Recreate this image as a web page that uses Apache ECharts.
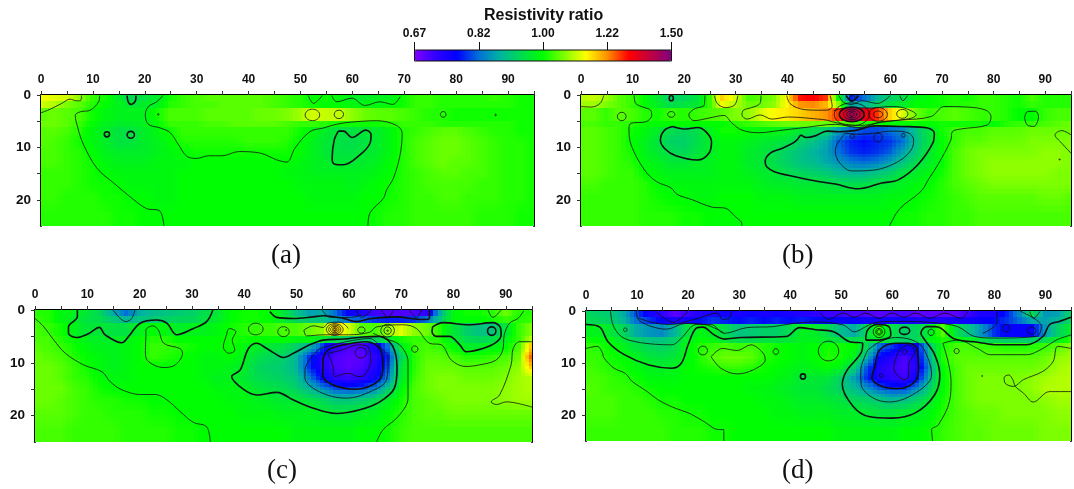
<!DOCTYPE html>
<html><head><meta charset="utf-8">
<style>html,body{margin:0;padding:0;background:#fff}#c{width:1074px;height:489px}</style>
<script src="https://cdn.jsdelivr.net/npm/echarts@6/dist/echarts.min.js"></script>
</head><body><div id="c"></div>
<script>
const colCenters=[0,2.5,5,7.5,10,12.5,15,17.5,20,22.5,25,27.5,30,32.5,35,37.5,40,42.5,45,47.5,50,52.5,55,57.5,60,62.5,65,67.5,70,72.5,75,77.5,80,82.5,85,87.5,90,92.5,95];
const rowEdges=[0,1.25,2.5,5,6.25,8,10,12,14,16,18,21,25];
const colorbarTicks=['0.67','0.82','1.00','1.22','1.50'];
const captions=['(a)','(b)','(c)','(d)'];
const ramp=['#8000ff','#3000ff','#0000ff','#0070d8','#00b4a0','#00dc50','#00ff00','#80ff00','#ffff00','#ff9000','#ff0000','#c00040','#800080'];
// ratio x 100
const ratioA=[
[114,113,112,108,103,101,97,93,95,97,101,103,104,105,105,105,105,105,104,103,102,100,101,99,98,97,98,98,101,103,103,102,102,102,102,103,102,101,101],
[112,110,107,105,102,100,98,96,97,98,102,103,104,104,105,105,105,105,104,103,102,101,100,100,99,99,99,100,101,103,103,102,102,102,102,102,102,101,101],
[105,106,105,104,101,99,98,98,98,101,104,104,104,105,105,105,105,106,106,107,109,112,111,111,108,106,105,105,104,103,102,102,101,101,101,101,101,101,101],
[106,106,105,103,100,98,97,97,98,100,103,103,103,104,104,105,105,105,105,104,103,103,102,101,101,101,101,102,103,103,103,102,102,102,102,102,102,101,101],
[105,105,104,102,99,97,95,95,97,99,101,103,103,103,103,103,103,103,103,103,101,99,97,95,95,96,97,99,102,103,104,105,105,104,103,102,102,101,101],
[105,104,103,101,99,97,95,95,97,98,100,102,102,102,102,102,103,103,103,102,100,98,96,95,94,95,97,99,102,104,105,106,106,105,104,103,102,102,101],
[104,104,103,102,100,98,97,97,97,98,99,100,101,101,101,101,101,101,101,101,100,98,96,95,95,96,97,99,102,104,105,106,106,105,104,103,102,102,101],
[104,104,103,102,101,99,98,98,98,99,99,99,100,100,100,100,100,100,100,100,99,98,97,96,96,97,98,100,102,104,105,106,105,105,104,103,102,102,101],
[103,103,103,102,101,100,99,99,99,99,99,100,100,100,100,100,100,100,100,99,99,98,98,98,98,98,99,100,102,103,104,105,105,104,104,103,102,102,101],
[103,103,103,102,101,101,100,99,99,99,99,100,100,100,100,100,100,100,100,100,99,99,99,99,98,99,100,101,102,103,104,104,104,104,103,103,102,102,101],
[103,103,102,102,102,101,101,100,100,99,99,100,100,100,100,100,100,100,100,100,100,99,99,99,99,100,100,101,102,103,103,104,104,103,103,103,102,102,101],
[102,102,102,102,102,102,101,101,100,100,100,100,100,100,100,100,100,100,100,100,100,100,100,100,100,100,101,102,102,103,103,103,103,103,102,102,102,101,101]];
const ratioB=[
[110,111,109,105,103,100,96,92,93,95,103,118,112,104,105,107,115,130,132,128,100,78,82,88,92,94,99,100,101,102,101,103,103,102,101,104,102,102,102],
[109,109,107,105,103,100,97,94,95,96,103,114,110,106,106,108,115,122,123,120,108,86,88,92,95,97,100,100,101,102,102,103,103,102,101,103,102,102,102],
[105,105,103,105,104,102,101,103,102,103,104,105,107,108,112,115,116,118,120,122,128,145,135,128,118,112,106,103,104,105,104,103,103,102,100,100,103,104,104],
[104,104,103,103,102,100,100,100,100,100,100,100,102,103,104,105,106,106,106,106,105,104,102,101,100,100,100,100,101,101,101,101,100,102,103,103,104,105,106],
[105,105,104,103,101,99,97,94,93,94,98,101,101,100,99,99,98,96,94,92,86,82,80,80,82,84,90,95,101,103,104,104,105,105,105,106,106,106,106],
[105,105,104,103,100,98,95,92,92,94,97,99,99,98,97,96,95,92,90,87,81,78,77,78,79,82,89,95,100,103,105,105,106,106,106,107,107,107,107],
[105,105,104,103,101,98,96,94,93,95,97,99,99,97,96,94,92,90,88,86,82,79,78,79,81,86,91,96,100,104,106,107,107,107,107,107,108,108,107],
[105,105,104,103,102,99,98,96,96,97,98,99,99,97,96,94,92,90,89,87,85,83,82,83,86,90,94,97,100,104,106,107,108,108,108,108,108,108,107],
[105,105,104,103,103,100,99,98,98,98,98,99,99,98,97,96,94,93,92,91,89,88,88,90,92,95,97,99,101,104,106,107,108,108,108,108,108,107,107],
[104,104,103,103,103,102,100,99,99,99,99,99,99,99,98,97,97,96,96,95,94,94,94,95,96,98,99,100,102,104,105,106,107,107,107,107,107,107,107],
[103,103,103,103,103,102,101,100,100,99,99,100,100,100,99,99,99,98,98,98,98,98,98,98,99,99,100,101,102,103,104,105,105,105,105,105,106,106,105],
[103,103,103,103,103,102,102,102,101,101,100,100,100,100,100,100,100,100,100,100,100,100,100,100,100,101,101,102,102,103,103,104,104,104,104,104,104,104,104]];
const ratioC=[
[102,102,99,98,96,93,87,82,87,89,90,91,92,94,96,100,101,101,100,96,90,86,87,82,76,74,71,70,70,70,72,87,99,101,101,102,106,102,102],
[103,102,99,97,95,94,91,88,90,91,92,93,93,95,97,100,101,101,100,97,93,91,90,86,82,81,79,78,78,79,82,90,99,100,100,101,103,102,103],
[104,103,101,98,96,96,95,95,98,100,99,97,98,98,99,101,102,103,103,104,104,106,108,118,112,105,104,108,113,108,106,102,96,92,90,90,96,103,107],
[104,104,102,100,98,97,97,98,100,102,102,100,100,100,100,101,101,100,100,100,99,99,97,94,92,91,92,96,101,103,103,102,97,94,93,94,98,103,110],
[105,104,103,101,99,98,98,99,100,103,103,102,101,100,100,101,99,97,96,95,92,88,80,72,70,70,74,82,97,103,104,103,100,97,97,98,100,104,118],
[106,105,104,102,100,99,98,99,100,103,102,101,100,99,99,100,98,95,93,92,88,79,73,70,69,69,72,78,92,102,105,105,104,102,102,103,104,106,125],
[106,106,105,103,101,99,98,99,100,100,100,100,100,99,99,98,97,93,92,91,88,79,73,70,69,70,73,80,95,102,106,106,106,105,105,105,106,108,118],
[106,106,105,103,102,100,99,99,100,100,100,100,100,99,98,98,96,94,93,92,90,83,76,72,71,72,75,83,96,103,106,107,107,106,106,106,107,109,110],
[106,106,106,104,103,101,100,100,100,100,100,100,100,100,99,99,98,96,95,94,92,88,84,80,79,80,83,90,99,104,106,107,107,107,107,107,108,109,110],
[106,106,105,104,103,102,102,101,101,100,100,100,100,100,100,99,99,98,97,96,96,95,93,90,90,91,93,97,101,104,105,106,107,107,107,107,108,109,109],
[105,105,105,104,103,103,102,102,102,101,101,100,100,100,100,100,99,99,99,98,98,98,97,96,96,97,98,100,102,104,105,105,106,106,106,106,106,106,106],
[104,104,104,103,103,103,103,102,102,102,102,101,101,100,100,100,100,100,100,100,99,99,99,99,99,100,100,101,103,104,104,104,104,104,104,104,104,104,104]];
const ratioD=[
[93,92,91,87,80,75,72,69,71,73,74,75,74,75,74,75,74,73,72,71,71,70,70,69,70,70,69,69,69,69,71,74,74,78,84,94,85,86,92],
[94,93,92,88,82,79,76,74,75,77,79,78,77,78,77,78,77,78,77,77,76,76,75,75,75,75,74,74,74,75,75,76,77,79,82,87,86,88,93],
[98,98,96,93,87,85,84,88,95,99,97,94,90,91,92,92,94,98,97,94,89,87,93,103,95,92,93,97,105,95,90,85,79,76,76,76,85,92,97],
[101,100,99,96,92,90,90,92,98,100,99,96,94,94,95,95,96,98,98,96,95,94,95,97,94,92,93,98,102,100,98,95,93,92,92,92,94,98,102],
[103,102,100,98,95,93,92,94,99,102,103,104,103,104,102,101,100,99,100,101,101,100,94,82,79,75,76,90,101,104,104,103,103,102,102,102,103,105,107],
[103,103,101,100,98,96,95,96,99,102,105,106,106,105,102,101,100,99,100,102,101,98,88,76,73,70,74,88,102,105,105,105,105,105,105,105,106,108,109],
[104,103,102,101,99,98,97,98,100,101,102,103,103,102,101,100,99,98,99,100,98,92,81,73,71,70,73,85,100,104,106,106,106,106,106,106,107,109,110],
[104,104,103,102,101,99,99,99,100,100,100,100,100,100,100,99,98,96,96,96,92,86,79,74,72,71,76,88,100,104,106,107,107,107,107,108,109,110,110],
[105,104,103,103,102,101,100,100,100,100,100,100,100,99,99,98,97,96,96,94,92,89,85,81,79,79,84,92,100,104,106,107,107,107,107,108,110,110,110],
[104,104,104,103,103,102,101,101,100,100,100,100,100,100,99,99,98,97,97,96,95,93,92,90,88,89,92,96,101,104,106,107,107,107,107,107,108,109,109],
[104,104,104,103,103,103,102,102,101,101,100,100,100,100,100,99,99,98,98,98,97,97,96,95,95,96,97,99,102,104,105,106,106,107,107,107,107,108,108],
[103,103,103,103,103,103,103,102,102,102,101,101,100,100,100,100,100,100,100,100,99,99,99,99,99,100,100,101,103,104,105,105,106,106,106,106,107,107,107]];

const thinA=[
[[0,3.4],[1.8,2.7],[4,1.6],[5.6,.8],[6.8,1.1],[7.6,1.1],[7.8,.1]],
[[11.3,.1],[11.1,1.3],[9.5,2.9],[7.6,3.2],[6.6,3.9],[7.1,6.3],[8.2,9.5],[10.8,14],[14,16.8],[17.9,20],[20.4,21.7],[22.7,22],[23.3,22.9],[23.7,25]],
[[23.5,.1],[22.3,1.3],[20.7,2.2],[20.1,3.8],[20.7,5.6],[23,6.3],[24.9,7.2],[26.5,9.5],[28.1,11.7],[30,12.1],[32.3,11.6],[34.9,11.6],[38.1,10.8],[42.3,11.1],[45.5,12.4],[47.4,12.8],[48.9,10.2],[51.8,7],[54.4,6.3],[56.9,5.6],[59.5,5.2],[64.7,4.9],[68.5,5.8],[69.6,7.3],[69.2,11.4],[67.9,15.9],[66.6,18.1],[66,19.7],[63.4,22.5],[63,25]],
[[51.5,.1],[52.5,1.6],[54.2,.1]],
[[56,.1],[57,1.3],[59.9,.6],[62.4,2],[65.3,1.3],[67.8,1.8],[69.2,.3]]];
const thickA=[
[[57.3,6.9],[58.3,6.9],[59.9,8.1],[62.6,6.7],[63.6,7.6],[63.4,9.2],[61.5,11.4],[58.3,13.3],[56.6,13.2],[56.1,12.1],[56.5,8.6],[57.3,6.9]],
[[16.6,.1],[16.8,1.3],[17.4,1.8],[18.2,1.1],[18.3,.1]]];
const ringsThinA=[[52.3,3.8,1.4,1.1],[57.4,3.7,.9,.8],[77.5,3.7,.55,.55],[87.6,3.8,.15,.15],[22.6,3.7,.15,.15]];
const ringsThickA=[[12.7,7.5,.5,.5],[17.3,7.6,.7,.65]];

const thinB=[
[[0,2.2],[2,2.3],[3.7,1.6],[4.4,.1]],
[[10.3,.1],[10.6,1.6],[12,2.3],[13.5,2.9],[13.7,3.9],[12.6,5.1],[9.7,5.4],[9.3,6.3],[9.7,9.5],[12.3,14.3],[14.6,16.5],[17.4,17.7],[18.7,19],[21.6,20],[25.4,21.4],[28,21.6],[29.9,23.2],[31.1,24.3],[31.2,25]],
[[24,.1],[23.9,1.9],[21.9,2.7],[20.9,3.8],[21.9,4.9],[24.8,4.4],[27.7,3.9],[29.3,5.4],[31.2,6.7],[34.4,7.2],[38.3,6.8],[43.4,6.2],[49.3,5.6],[53.8,6.2],[58.3,5.1],[62,4.8],[67.9,4.1],[70.4,2.2],[74.9,2.3],[78.5,2.9],[79.5,4.1],[78.8,5.7],[73.6,6.5],[72,7],[71.7,8.6],[69.2,13.3],[67.5,15.9],[65.9,18.4],[61.8,21.7],[59.8,25]],
[[25.9,.1],[26.4,1.6],[28,2.4],[29.8,1.9],[30.4,.1]],
[[34.9,.1],[34.7,1.6],[33.1,2.4],[31.5,2.9],[31.2,3.8],[32.2,4.6],[34.7,3.8],[37,4.6],[40.2,4.2],[46,4.6],[47.7,4.8],[49.9,5.4],[54.4,5.8],[58.3,5.2],[61.5,4.8],[64.1,4.4],[65,3.8],[62.3,2.4],[60,2.2],[56,2.5],[52,2.4],[49,3]],
[[39.9,.1],[40.5,1.6],[42.8,2.7],[46,2.9],[47.7,2.9],[48.7,2.2],[48.3,.1]],
[[50,.1],[50.9,1.4],[52.5,1.8],[54.4,1.1],[57.5,1.6],[60,.1]],
[[51.2,7.3],[49.6,9.5],[49.3,10.8],[50.2,13],[52.5,14.5],[57,14.3],[61.5,12.7],[64,10.5],[64.5,8.6],[63.4,7.2],[60.2,6.9],[56.7,7.3],[53.8,7.5],[51.2,7.3]],
[[61.8,.1],[62.4,1.1],[63.3,.1]],
[[86,4.4],[86.5,3.2],[88.1,3.1],[88.7,4.1],[87.8,6],[86.5,5.7],[86,4.4]],
[[95,7.6],[93.2,6.8],[91.9,7.6],[93.2,9.2],[95,11.1]]];
const thickB=[
[[42.6,7.6],[43.7,8.1],[45.4,7.8],[47.7,6.9],[49.9,7],[53,6.8],[57,5.9],[62.1,6],[67.2,6.3],[68.5,7.3],[68.2,9.2],[65.3,13.3],[61.5,16.2],[58.3,16.8],[53.8,17.9],[49.3,17],[46,16.5],[41.5,15.6],[37.6,14.7],[36,13.7],[35.7,12.7],[36.7,11.1],[38.9,10.2],[41.5,8.9],[42.6,7.6]],
[[17.8,6],[20.3,6.5],[22.6,6.2],[24.2,7],[25.3,8.9],[24.8,11.1],[22.6,12.4],[18.4,11.6],[16.2,10.2],[15.4,8.6],[16.2,6.7],[17.8,6]],
[[51.4,.1],[52.5,1.2],[53.8,.1]]];
const ringsThinB=[[7.9,4.1,.85,.8],[17.5,3.7,.7,.55],[52.5,3.7,3.4,2.2],[52.5,3.7,1.6,1],[52.5,3.7,1,.65],[52.5,3.7,.5,.35],[57.6,3.7,1.8,1.3],[57.6,3.7,.9,.65],[62.3,3.6,1.1,.85],[52.6,.6,.6,.5],[52.6,7.9,.4,.4],[57.6,8.1,.8,.85],[62.5,7.7,.35,.35],[92.8,12.3,.12,.12]];
const ringsThickB=[[52.5,3.7,2.4,1.4],[17.5,.6,.4,.5]];

const thinC=[
[[0,1.6],[1.7,3.2],[3.6,5.7],[5.8,8.2],[9.3,10.4],[12.8,11.7],[14.4,13.6],[16.6,15.1],[20.1,16],[23,16],[25.2,17],[27.7,19.2],[30.3,21.3],[32.8,22.1],[33.5,25]],
[[14.9,0],[16.3,1.6],[17.4,2.2],[18.5,1.6],[19.1,0]],
[[21.2,4.7],[21.2,3.8],[22.5,3],[23.6,3.8],[24.6,6.3],[27.7,7.3],[28.2,8.2],[26.8,10.4],[24.6,10.9],[21.7,9.8],[21.1,8.2],[21.2,4.7]],
[[37.3,3.5],[38.4,4.1],[37.7,5.7],[38.2,7.6],[37.1,8.2],[36,7],[36.6,4.7],[36.9,3.7],[37.3,3.5]],
[[54.4,7.3],[51.6,11.4],[51.6,12.9],[54.4,15.5],[59.5,16.7],[64,15.5],[67.2,13.2],[67.5,8.8],[66.5,7.6],[64,5.4],[59.5,6],[54.4,7.3]],
[[61.4,0],[62.4,1.4],[64.3,0]],[[66.2,0],[67.5,1.4],[68.5,0]],[[71.6,0],[72.9,1.4],[73.9,0]],
[[54.9,0],[56.4,1.4],[60.2,1.4],[62.4,1]],
[[51.4,3.8],[51.9,4.9],[55.1,4.7],[59.9,4.7],[64,4.2],[65.3,3.2],[70.4,2.8],[72.9,3.5],[75.4,6.3],[77.7,6.6],[79.6,9.5],[82.4,10.7],[84.9,10.4],[88.1,9.5],[89.4,7.6],[89.7,4.7],[90.7,2.5],[92.3,1.6],[93.4,.2]],
[[51.4,3.8],[53.2,3],[55.1,3.3],[56,2.5],[58.3,2.3],[59.9,3.5]],
[[86.6,0],[87.5,1.4],[89.1,0]],
[[65.3,25],[66.5,22.7],[69.4,20.2],[71.3,16.7],[71.3,9.8],[69.7,6.6],[66.9,5.4],[64.6,4.4]],
[[95,6],[92.6,6],[91.4,7.3],[91,10.4],[88.8,16.1],[87.2,17.4],[88.2,17.9],[90.1,17.4],[95,18.4]],
[[56,8.2],[58.6,7.6],[61.8,6.6],[63.7,7],[64.2,9.5],[63,12.3],[61.8,12.6],[59.9,12],[57.3,12.6],[57,10.7],[56,8.2]]];
const thickC=[
[[8.1,0],[8.1,1.3],[6.4,3.2],[6.4,4.4],[8,5.2],[10.2,4.5],[12.3,3.3],[13.4,4.7],[16.6,6.2],[17.9,5],[20.1,2.5],[23.3,1.9],[25.2,2.5],[27.1,4.7],[30.3,3.5],[32.8,2.2],[34,0]],
[[48.7,16.7],[46.2,15.6],[42.4,16.1],[39.8,15],[37.6,12.6],[39.2,11.4],[40.8,7.3],[42.4,6.3],[44.3,7.3],[46.8,8.8],[47.5,9],[49.4,8.2],[52.5,6.6],[55.1,5.7],[59,5.5],[62.7,5.1],[65.9,5],[68.4,6.9],[69.2,11],[68.7,14.8],[65.9,17.4],[62.1,18.9],[57.6,19.6],[53.2,18.6],[48.7,16.7]],
[[55.1,9.1],[55,12.3],[57,14.2],[61.4,15],[65.9,13.2],[66.5,10.4],[65.9,7.3],[63.3,6],[59,6.6],[56,7.6],[55.1,9.1]],
[[44.9,.3],[46.2,1.4],[49.4,1.6],[53.2,1.3],[55.1,1.1],[59,1.6],[61.4,2.2],[64.3,1.6],[69,1.3],[74,1.8],[75.4,1.6],[75.4,0]],
[[76,3.2],[78,2.4],[83,2.8],[87.5,2.4],[88.9,3.2],[89.1,4.7],[88.2,6.1],[85.6,7.3],[82.4,7.9],[81.2,6.6],[79.2,5],[76.7,5],[75.9,4.1],[76,3.2]]];
const ringsThinC=[[42.2,3.6,1.4,1.1],[47.5,4.1,1.1,.95],[48,3.8,.1,.1],[57.3,3.7,1.6,1.1],[57.3,3.7,1.15,.85],[57.3,3.7,.8,.6],[57.3,3.7,.45,.35],[57.3,3.7,.2,.2],[67.4,3.9,1.3,1.2],[67.4,3.9,.7,.7],[67.4,3.9,.15,.15],[62.4,3.8,.7,.6],[72.6,7.4,.6,.6],[62.3,8.1,1.1,1]];
const ringsThickC=[[87.3,4,.8,.8]];

const thinD=[
[[4.8,0],[5.3,2.7],[6.9,4.9],[9.7,5.9],[13.6,6.4],[16.8,6.5],[18.7,5.2],[21.6,2.6],[24.5,2.6],[27.1,4.3],[31.5,3.2],[36.7,3],[40.5,2.4],[45,2.1],[50.4,2.7],[52.6,4],[54.8,3],[56.8,2.2],[61.3,2],[67.7,2.2],[72.8,3],[76.1,4.9],[80,5.2],[88.2,4.9],[89.2,3],[88.2,1.7],[85,0]],
[[9.9,0],[10.1,1.4],[12.3,2.8],[15.8,3.5],[19.4,2.4],[23.2,2.6],[27,4.2]],
[[10.1,1.3],[13,2.2],[16.5,2.6],[21.3,1.6],[25.8,.4],[26.7,1.6],[28,1.4],[28.5,0]],
[[13.6,0],[17.1,2.2],[20,0]],
[[24.5,8.8],[26.7,7.2],[29.6,7.6],[32.3,6.5],[34.7,8.1],[35.1,9.4],[32.8,11.3],[29.6,12.1],[26.4,11],[24.5,8.8]],
[[0,7.2],[2.2,6.8],[3.2,8],[3.5,9],[5.5,11],[7.7,12],[9,13.5],[12,15.5],[14,17],[17,18.5],[20.5,19.8],[23,21.2],[26,22.8],[27,22.8],[27,25]],
[[55.2,7.5],[53.8,11.6],[53.9,14.2],[56.2,16.7],[59.4,17.5],[64.5,15.8],[67.7,12.3],[66.1,7.2],[63.9,5.6],[60.6,5.1],[57.4,6],[55.2,7.5]],
[[61.3,7.5],[60.3,11],[61,12.3],[62.3,13.2],[63.2,12.6],[63.2,10.4],[64.4,7.8],[63.1,6.5],[61.3,7.5]],
[[69.9,6.2],[71.5,13.5],[71.2,17.4],[69,21.9],[67.7,22.8],[67.9,25]],
[[69.9,6.2],[72.8,5.6],[76.7,7.2],[79.2,8.4],[83.1,8.4],[86.3,8.4],[89.5,7.2],[92.1,5.6],[95,4.6]],
[[95,7.2],[92.4,6.8],[91.5,9.7],[89.5,11.6],[85.7,13.2],[83.7,14.5],[82.1,13.9],[81.9,12.8],[82.8,12.3],[83.6,13.2],[84.1,14.5],[85.7,15.8],[87.6,17.5],[90.8,15.5],[95,15.5]],
[[45.9,.4],[47.5,1.6],[50.4,.4],[52.6,1.2],[54.8,.4],[57.4,1.4],[60,.4],[62.2,1.2],[64.5,.4],[67.4,1.4],[70.3,.4],[73.5,1.4],[74.8,.1]],
[[80.5,.1],[80.5,2.2],[77.7,4.3]],
[[86.9,.1],[87.7,1.4],[88.9,.1]]];
const thickD=[
[[0,2.6],[2.7,3.1],[4.3,5.9],[7.5,8.4],[12.3,10.4],[16.8,11],[18.7,10],[20,6.5],[21.6,3.3],[22.9,3.1],[25.1,4.6],[27.1,5.4],[30.3,5.1],[39.2,4.9],[41.8,3.2],[45,3.6],[48.5,4],[51.6,5.9],[54.2,6.2],[54,7.8],[51,11.6],[50.2,14.2],[52.3,18.3],[55.4,20.3],[59.9,20.6],[64.5,19.6],[68.3,16.1],[69.3,12.3],[68.3,8.4],[66.4,5.6],[65.6,4.3],[66.7,3],[68.3,3],[69.5,3.3],[72.2,5.4],[76.7,6],[80.5,6.5],[86.3,6.5],[89.5,4.9],[90.8,2.6],[92.7,2],[95,1.2]],
[[54.8,5.6],[55.2,3.6],[57.1,2.6],[59.3,3],[59.7,4.6],[57.4,5.6],[54.8,5.6]],
[[56.7,10.4],[56,12.9],[58,14.5],[61.3,14.9],[64.5,13.5],[65.1,11],[64.8,7.2],[63.2,6.2],[60.6,6.2],[57.5,7.5],[56.7,10.4]]];
const ringsThinD=[[7.7,3.6,.35,.35],[22.9,7.6,.9,.85],[37.2,7.8,.55,.55],[47.5,7.7,2,1.9],[72.6,7.7,.5,.5],[77.6,12.5,.1,.1],[57.4,4,1.15,1.1],[57.4,4,.65,.65],[57.4,4,.4,.4],[67.6,4.1,.6,.6],[62.4,7.8,.45,.45],[57.8,12.4,.35,.35],[82.3,3.3,.7,.7],[87.3,3.8,.8,.7]];
const ringsThickD=[[62.4,3.8,1,.7],[42.5,12.6,.5,.5]];

const panels=[
 {ratio:ratioA,thin:thinA,thick:thickA,rThin:ringsThinA,rThick:ringsThickA,left:41,top:95,w:493,h:131},
 {ratio:ratioB,thin:thinB,thick:thickB,rThin:ringsThinB,rThick:ringsThickB,left:581,top:95,w:494,h:131},
 {ratio:ratioC,thin:thinC,thick:thickC,rThin:ringsThinC,rThick:ringsThickC,left:35,top:310,w:497,h:132},
 {ratio:ratioD,thin:thinD,thick:thickD,rThin:ringsThinD,rThick:ringsThickD,left:586,top:311,w:493,h:130}];
const captionPos=[[287,257],[798,257],[283,472],[798,472]];
const sans='"Liberation Sans",Arial,sans-serif';
const lab={fontFamily:sans,fontWeight:'bold',fontSize:12,color:'#111'};
const grid=[],xAxis=[],yAxis=[],series=[];
const logMin=Math.log(.67),logMax=Math.log(1.5);
const rowCenters=rowEdges.slice(1).map((e,i)=>(e+rowEdges[i])/2);

function rampColor(v){
  const t=Math.max(0,Math.min(1,(v-logMin)/(logMax-logMin)));
  return echarts.color.lerp(t,ramp);
}
// display shading: each read cell is painted with soft transitions to its read neighbours
function shade(g,r,c,sx,sy){
  let r0=r,r1=r,fy=0;
  if(r>=4){
    let k=sy<rowCenters[r]?r-1:r;
    if(k>=4&&k+1<g.length){r0=k;r1=k+1;fy=(sy-rowCenters[k])/(rowCenters[k+1]-rowCenters[k]);}
  }
  const f=(sx/2.5),c0=Math.max(0,Math.min(colCenters.length-2,Math.floor(f))),fx=f-c0;
  const a=g[r0][c0]*(1-fx)+g[r0][c0+1]*fx,b=g[r1][c0]*(1-fx)+g[r1][c0+1]*fx;
  return Math.log((a*(1-fy)+b*fy)/100);
}
function makeCellRender(g){return function(p,api){
  const c=api.value(0),r=api.value(1);
  const x=colCenters[c],t=rowEdges[r],b=rowEdges[r+1];
  const cs=p.coordSys,rect={x:cs.x,y:cs.y,width:cs.width,height:cs.height};
  const kids=[];
  const nx=3,ny=r>=4?3:1;
  for(let i=0;i<nx;i++)for(let j=0;j<ny;j++){
    const sx0=x-1.25+2.5*i/nx,sx1=sx0+2.5/nx,sy0=t+(b-t)*j/ny,sy1=sy0+(b-t)/ny;
    const A=api.coord([sx0,sy0]),C=api.coord([sx1,sy1]);
    const sh={x:Math.floor(A[0]),y:Math.floor(A[1]),width:Math.ceil(C[0])-Math.floor(A[0]),height:Math.ceil(C[1])-Math.floor(A[1])};
    const cl=echarts.graphic.clipRectByRect(sh,rect);
    if(cl)kids.push({type:'rect',shape:cl,style:{fill:rampColor(shade(g,r,c,(sx0+sx1)/2,(sy0+sy1)/2))}});
  }
  return {type:'group',children:kids};
};}
function ringRender(lw){return function(p,api){
  const c=api.coord([api.value(0),api.value(1)]),s=api.size([api.value(2),api.value(3)]);
  return {type:'ellipse',shape:{cx:c[0],cy:c[1],rx:s[0],ry:s[1]},style:{fill:'none',stroke:'#111',lineWidth:lw}};
};}

panels.forEach((P,i)=>{
  grid.push({left:P.left,top:P.top,width:P.w,height:P.h,containLabel:false});
  xAxis.push({gridIndex:i,type:'value',position:'top',min:0,max:95,interval:5,splitLine:{show:false},
    axisLine:{lineStyle:{color:'#000',width:2}},axisTick:{length:4,lineStyle:{color:'#333',width:1}},
    axisLabel:Object.assign({margin:9,formatter:v=>v%10===0?String(v):''},lab)});
  yAxis.push({gridIndex:i,type:'value',inverse:true,min:0,max:25,interval:5,splitLine:{show:false},
    axisLine:{lineStyle:{color:'#000',width:2}},axisTick:{length:4,lineStyle:{color:'#333',width:1},customValues:[0,5,10,15,20]},
    axisLabel:Object.assign({margin:10,customValues:[0,10,20],formatter:v=>String(v)},lab,{fontSize:13.5})});
  yAxis.push({gridIndex:i,type:'value',inverse:true,position:'right',min:0,max:25,interval:5,splitLine:{show:false},
    axisLine:{show:true,lineStyle:{color:'#000',width:2}},axisTick:{show:false},axisLabel:{show:false}});
  const cells=[];
  P.ratio.forEach((row,r)=>row.forEach((v,c)=>cells.push([c,r,Math.log(v/100)])));
  series.push({type:'custom',xAxisIndex:i,yAxisIndex:i*2,data:cells,renderItem:makeCellRender(P.ratio),encode:{x:-1,y:-1},silent:true,z:1,animation:false});
  const addLine=(pts,w)=>series.push({type:'line',xAxisIndex:i,yAxisIndex:i*2,data:pts,smooth:.35,showSymbol:false,symbol:'none',silent:true,clip:true,z:3,animation:false,lineStyle:{color:'#111',width:w}});
  P.thin.forEach(l=>addLine(l,.8));
  P.thick.forEach(l=>addLine(l,1.6));
  series.push({type:'custom',xAxisIndex:i,yAxisIndex:i*2,data:P.rThin,renderItem:ringRender(.8),silent:true,z:3,animation:false,clip:true});
  series.push({type:'custom',xAxisIndex:i,yAxisIndex:i*2,data:P.rThick,renderItem:ringRender(1.6),silent:true,z:3,animation:false,clip:true});
});
grid.push({left:414.5,top:50,width:257,height:11,show:true,borderColor:'#111',borderWidth:1,backgroundColor:'transparent',z:10});
xAxis.push({gridIndex:4,type:'value',position:'top',min:0,max:4,interval:1,splitLine:{show:false},z:10,
  axisLine:{show:false,onZero:false},axisTick:{length:8,lineStyle:{color:'#111',width:1}},
  axisLabel:Object.assign({margin:10,formatter:v=>colorbarTicks[v],showMinLabel:true,showMaxLabel:true},lab)});
yAxis.push({gridIndex:4,type:'value',show:false,min:0,max:1});

const g=captions.map((t,i)=>({type:'text',left:captionPos[i][0]-16,top:captionPos[i][1]-15,style:{text:t,fontFamily:'"Liberation Serif","Times New Roman",serif',fontSize:27,fill:'#111'}}));
g.push({type:'text',left:484,top:8,style:{text:'Resistivity ratio',fontFamily:sans,fontWeight:'bold',fontSize:16,fill:'#111'}});

const chart=echarts.init(document.getElementById('c'),null,{renderer:'canvas'});
chart.setOption({animation:false,backgroundColor:'#fff',grid,xAxis,yAxis,series,graphic:g,
  visualMap:[{type:'continuous',show:true,orient:'horizontal',seriesIndex:[],min:logMin,max:logMax,
    left:414.5,top:50,itemWidth:11,itemHeight:257,showLabel:false,text:null,calculable:false,hoverLink:false,padding:0,
    inRange:{color:ramp}}]});
</script></body></html>
